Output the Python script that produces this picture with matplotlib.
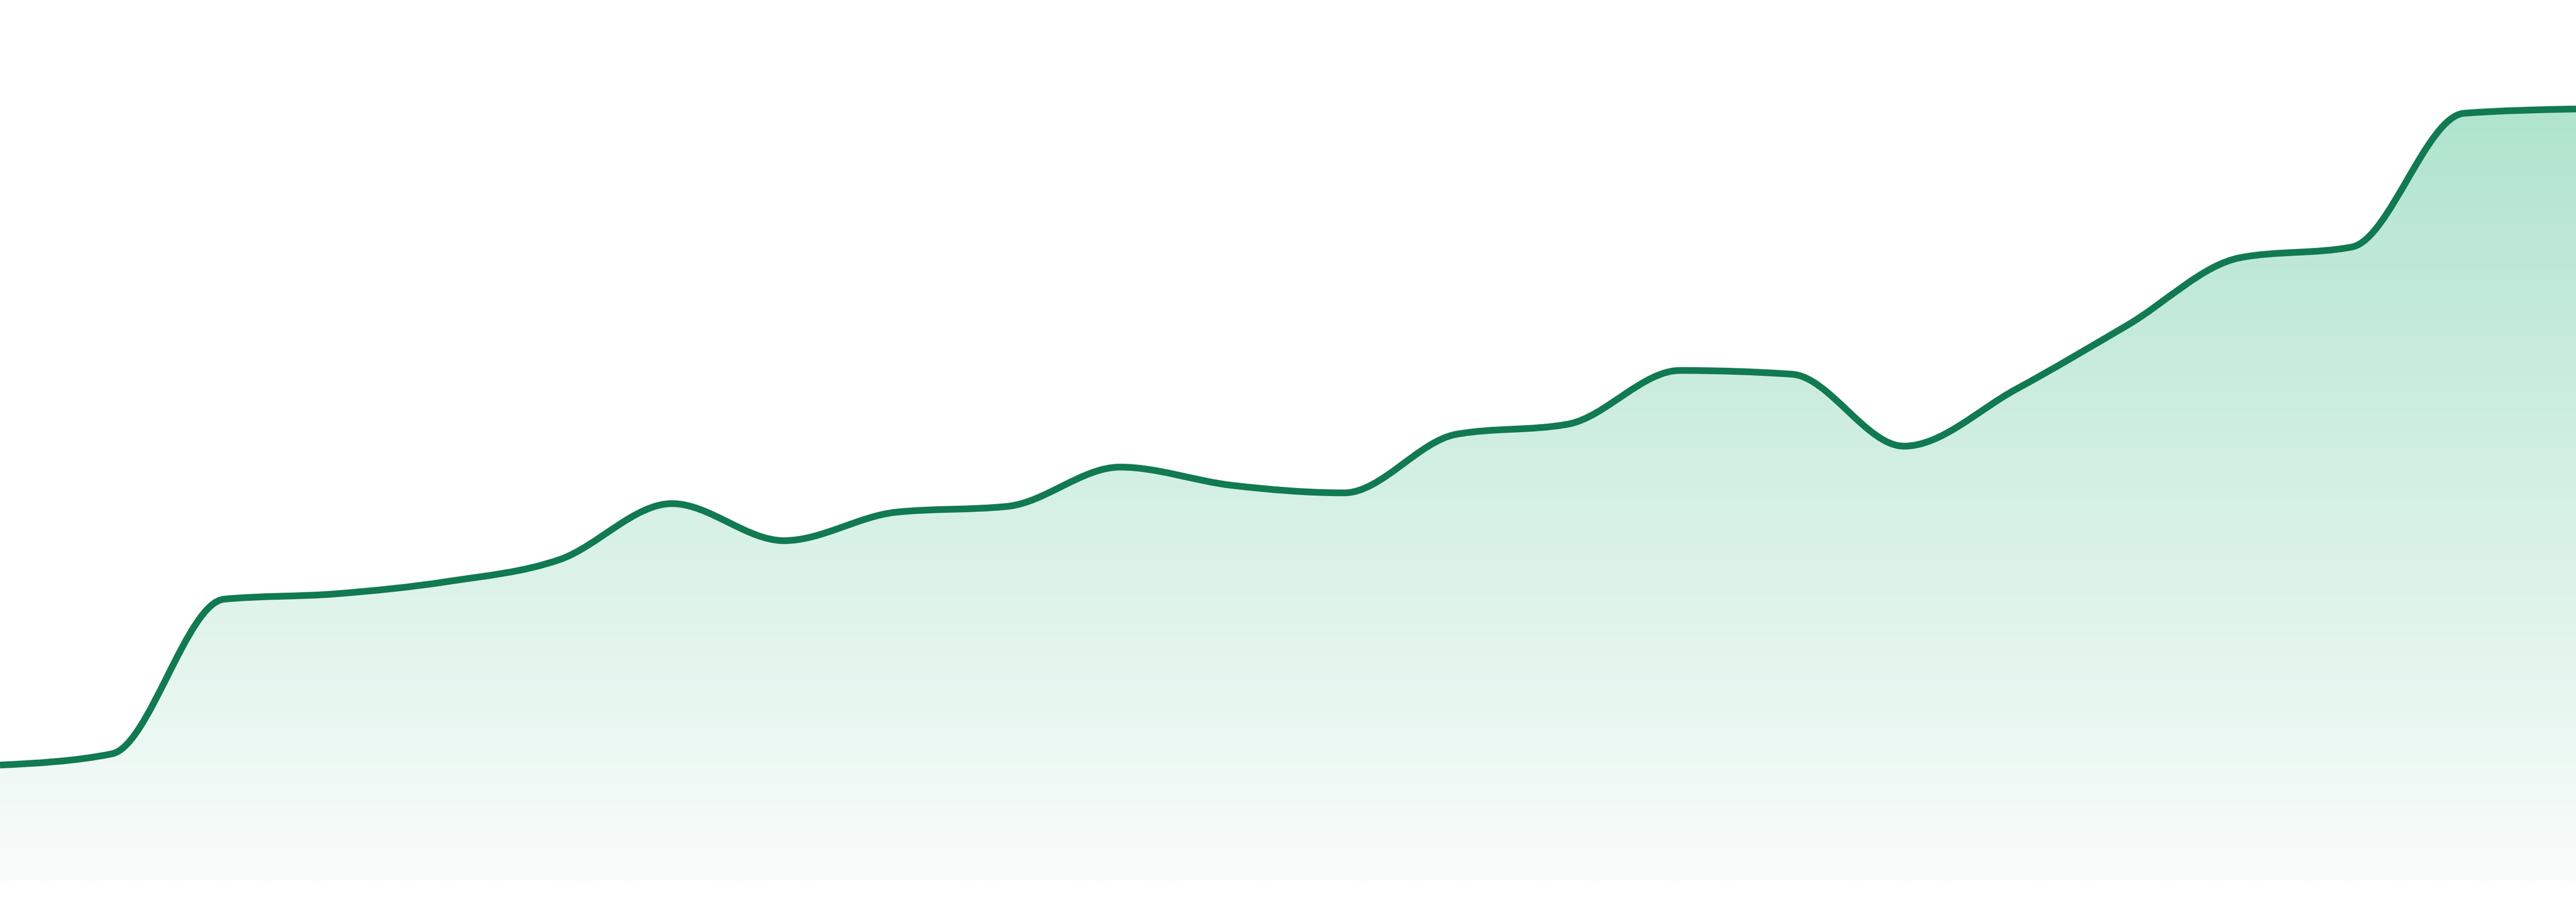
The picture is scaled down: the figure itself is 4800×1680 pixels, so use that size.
import numpy as np
import matplotlib
matplotlib.use('Agg')
import matplotlib.pyplot as plt
from matplotlib.path import Path
from matplotlib.patches import PathPatch
from matplotlib.colors import to_rgb

# values (24 evenly spaced samples)
values = [21.5, 23.6, 52.4, 53.4, 55.7, 59.8, 70.2, 63.3, 68.6, 69.7, 77.0, 73.6,
          72.2, 83.1, 85.0, 95.0, 94.3, 80.9, 91.5, 103.5, 116.0, 118.0, 142.9, 143.7]
steps = list(range(len(values)))

line_color = '#117a50'
fill_top = '#b0e4cd'
fill_bottom = '#f9fcfb'


def monotone_path(xs, ys):
    # monotone-x cubic curve, same as d3.curveMonotoneX
    xs = np.asarray(xs, float)
    ys = np.asarray(ys, float)
    n = len(xs)
    h = np.diff(xs)
    s = np.diff(ys) / h
    t = np.zeros(n)
    for i in range(1, n - 1):
        p = (s[i - 1] * h[i] + s[i] * h[i - 1]) / (h[i - 1] + h[i])
        t[i] = (np.sign(s[i - 1]) + np.sign(s[i])) * min(abs(s[i - 1]), abs(s[i]), 0.5 * abs(p))
    t[0] = (3 * s[0] - t[1]) / 2
    t[-1] = (3 * s[-1] - t[-2]) / 2
    verts = [(xs[0], ys[0])]
    codes = [Path.MOVETO]
    for i in range(n - 1):
        dx = h[i] / 3
        verts += [(xs[i] + dx, ys[i] + dx * t[i]),
                  (xs[i + 1] - dx, ys[i + 1] - dx * t[i + 1]),
                  (xs[i + 1], ys[i + 1])]
        codes += [Path.CURVE4] * 3
    return verts, codes


fig = plt.figure(figsize=(48, 16.8), dpi=100)
ax = fig.add_axes([0, 0, 1, 1])
ax.set_xlim(0, len(values) - 1)
ax.set_ylim(-4, 164)
ax.axis('off')

verts, codes = monotone_path(steps, values)

# area under the curve, filled with a vertical gradient
area_verts = verts + [(steps[-1], 0), (steps[0], 0), (steps[0], 0)]
area_codes = codes + [Path.LINETO, Path.LINETO, Path.CLOSEPOLY]
area = PathPatch(Path(area_verts, area_codes), facecolor='none', edgecolor='none')
ax.add_patch(area)

top = np.array(to_rgb(fill_top))
bot = np.array(to_rgb(fill_bottom))
k = np.linspace(0, 1, 256)[:, None]
grad = (bot * (1 - k) + top * k)[:, None, :]
img = ax.imshow(grad, extent=(steps[0], steps[-1], 0, max(values)), origin='lower',
                aspect='auto', interpolation='bilinear', zorder=1)
img.set_clip_path(area)

line = PathPatch(Path(verts, codes), facecolor='none', edgecolor=line_color,
                 linewidth=9, capstyle='butt', joinstyle='round', zorder=2)
ax.add_patch(line)

fig.savefig('out.png', dpi=100, facecolor='white')
